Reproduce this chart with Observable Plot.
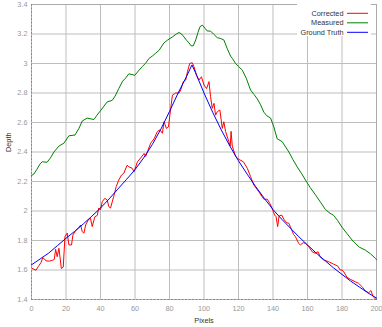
<!DOCTYPE html>
<html><head><meta charset="utf-8">
<script src="https://cdn.jsdelivr.net/npm/d3@7"></script>
<script src="https://cdn.jsdelivr.net/npm/@observablehq/plot@0.6"></script>
<style>
html,body{margin:0;padding:0;background:#fff;}
#chart{width:382px;height:327px;}
</style></head><body><div id="chart"></div>
<script>
const seriesNames = ["Corrected", "Measured", "Ground Truth"];
const seriesColors = ["#ff0000", "#008000", "#0000ff"];
const xTicks = [0, 20, 40, 60, 80, 100, 120, 140, 160, 180, 200];
const yTicks = [1.4, 1.6, 1.8, 2.0, 2.2, 2.4, 2.6, 2.8, 3.0, 3.2, 3.4];
const xLabel = "Pixels";
const yLabel = "Depth";

const correctedX = [0.5,2.6,4,5.5,6.5,7.5,8.4,10.3,12,13.2,14,14.9,15.9,16.6,17.3,18.4,19.4,20.7,21.7,23.2,24,25.5,27.1,28.5,29.4,30.4,31.4,32.9,34.2,35.2,36.7,38.1,39,40,41,42.5,43.9,44.8,45.8,47.7,49.1,50.6,52.2,53.5,55.4,56.4,58.3,59.5,61.4,63.3,65.3,66.2,69.1,71.1,73,74.5,75.9,76.8,78.2,79.4,80.7,81.7,83.6,85.5,86.5,88,89.4,90.4,91.7,93.2,94.2,95.7,97.1,98.5,100,101.5,102.9,103.8,104.8,105.8,106.7,107.7,109.2,110.6,111.5,112.5,114.4,115.2,115.7,116.4,118.3,120.2,122.8,125.1,127,128.9,131.8,134.7,136.7,138.2,139.5,140.9,141.8,142.7,143.5,145,146.5,148,149.2,150.5,152,153,154.9,155.9,157.5,158.8,160.7,162.7,164.6,166.1,167.5,169.4,172.3,175.2,177.5,179,180,181,182.9,184.8,187.7,189.6,191.6,193.5,195.4,196.8,198,199.3,200];
const correctedY = [1.61,1.598,1.625,1.65,1.683,1.675,1.662,1.66,1.665,1.672,1.74,1.69,1.747,1.68,1.61,1.62,1.826,1.85,1.77,1.77,1.837,1.866,1.883,1.905,1.86,1.85,1.905,1.94,1.95,1.894,1.96,1.97,2.02,2.007,2.063,2.086,2.075,2.03,2.02,2.10,2.165,2.21,2.244,2.255,2.31,2.30,2.29,2.266,2.334,2.36,2.39,2.37,2.46,2.49,2.54,2.55,2.527,2.605,2.56,2.57,2.696,2.786,2.80,2.80,2.82,2.877,2.888,2.944,3.0,3.005,2.978,2.92,2.888,2.91,2.854,2.83,2.877,2.775,2.696,2.73,2.65,2.673,2.685,2.56,2.605,2.54,2.47,2.44,2.54,2.44,2.37,2.35,2.334,2.29,2.233,2.176,2.13,2.08,2.08,2.05,2.018,1.973,1.961,1.894,1.965,1.973,1.94,1.92,1.917,1.88,1.84,1.826,1.78,1.77,1.785,1.78,1.758,1.724,1.713,1.724,1.686,1.668,1.656,1.639,1.627,1.60,1.60,1.588,1.55,1.537,1.52,1.51,1.487,1.46,1.446,1.46,1.42,1.405,1.40];

const measuredX = [0,1.3,3,5,6.3,9,11,13,15.9,18.8,21.7,25.2,27.5,29.4,32.3,36.2,38,40,43.9,46.8,48.5,50.6,52.8,54.5,56.4,59.9,62,64.3,66,68.2,70,72,74,76.8,79,81.7,84,85.5,87,88.4,90,91.3,92.5,93.8,95.2,96.5,97.7,99,100.5,101.9,103.8,105.5,107.7,109.5,111.5,113.5,115.4,116.4,118.3,120,122.2,124.5,127,129,130.9,132.8,134.7,136.5,138.6,140.5,142.4,145.3,147,149.2,151.5,154,156.5,158.8,161.5,164.6,167.5,170.4,173,175.2,177.5,180,183,186.8,190,193.5,196.5,199.3,200];
const measuredY = [2.24,2.25,2.28,2.32,2.334,2.33,2.36,2.40,2.44,2.46,2.51,2.515,2.56,2.61,2.63,2.62,2.65,2.68,2.74,2.75,2.78,2.83,2.88,2.90,2.93,2.92,2.95,2.98,3.0,3.035,3.05,3.07,3.09,3.14,3.16,3.18,3.20,3.21,3.2,3.18,3.155,3.14,3.12,3.12,3.16,3.21,3.25,3.26,3.24,3.22,3.22,3.2,3.175,3.17,3.16,3.10,3.05,3.035,3.0,2.98,2.955,2.9,2.82,2.79,2.76,2.72,2.67,2.645,2.63,2.57,2.49,2.47,2.44,2.40,2.35,2.30,2.255,2.21,2.16,2.11,2.06,2.01,1.985,1.97,1.935,1.89,1.845,1.79,1.755,1.735,1.71,1.68,1.67];

const truthX = [0,5,10,15,20,25,30,35,40,45,50,55,60,65,70,75,80,85,90,93,95,100,105,110,115,120,125,130,135,140,145,150,155,160,165,170,175,180,185,190,195,200];
const truthY = [1.635,1.675,1.715,1.765,1.815,1.862,1.912,1.965,2.02,2.082,2.148,2.213,2.28,2.36,2.45,2.555,2.675,2.8,2.915,2.99,2.94,2.80,2.67,2.55,2.44,2.34,2.25,2.165,2.085,2.01,1.945,1.885,1.825,1.77,1.715,1.665,1.615,1.57,1.525,1.485,1.445,1.41];

const rows = [];
correctedX.forEach((x, i) => rows.push({series: "Corrected", x, y: correctedY[i]}));
measuredX.forEach((x, i) => rows.push({series: "Measured", x, y: measuredY[i]}));
truthX.forEach((x, i) => rows.push({series: "Ground Truth", x, y: truthY[i]}));

const gridColor = "#bdbdbd";
const fmt = d => String(Math.round(d * 10) / 10);

const chart = Plot.plot({
  width: 382, height: 327,
  marginLeft: 31, marginRight: 6, marginTop: 4, marginBottom: 28,
  style: {fontFamily: "'Liberation Sans', Arial, sans-serif", fontSize: "7.3px", background: "#fff"},
  x: {domain: [0, 200], label: null},
  y: {domain: [1.4, 3.4], label: null},
  color: {domain: seriesNames, range: seriesColors},
  marks: [
    Plot.gridX(xTicks, {stroke: gridColor, strokeOpacity: 1}),
    Plot.gridY(yTicks, {stroke: gridColor, strokeOpacity: 1}),
    Plot.ruleY([3.4], {stroke: "#aaa"}),
    Plot.ruleX([200], {stroke: "#aaa"}),
    Plot.ruleY([1.4], {stroke: "#888", strokeDasharray: "2,1.5"}),
    Plot.ruleX([0], {stroke: "#888", strokeDasharray: "2,1.5"}),
    Plot.axisX(xTicks, {tickSize: 0, tickPadding: 6, fill: "#999", tickFormat: fmt}),
    Plot.axisY(yTicks, {tickSize: 0, tickPadding: 4, fill: "#999", tickFormat: fmt}),
    Plot.text([xLabel], {frameAnchor: "bottom", dy: 23, fill: "#333"}),
    Plot.text([yLabel], {frameAnchor: "left", dx: -23, rotate: -90, fill: "#333"}),
    Plot.line(rows.filter(d => d.series === "Corrected"), {x: "x", y: "y", stroke: "series", strokeWidth: 1}),
    Plot.line(rows.filter(d => d.series === "Measured"), {x: "x", y: "y", stroke: "series", strokeWidth: 1}),
    Plot.line(rows.filter(d => d.series === "Ground Truth"), {x: "x", y: "y", stroke: "series", strokeWidth: 1})
  ]
});

// legend
const svg = d3.select(chart);
const lg = svg.append("g");
lg.append("rect").attr("x", 297).attr("y", 0).attr("width", 74).attr("height", 36).attr("fill", "#fff");
seriesNames.forEach((name, i) => {
  const yy = 13.3 + i * 9.5;
  lg.append("text").attr("x", 343.5).attr("y", yy).attr("dy", "0.35em")
    .attr("text-anchor", "end").attr("fill", "#333")
    .attr("font-family", "'Liberation Sans', Arial, sans-serif").attr("font-size", "7.3px")
    .text(name);
  lg.append("line").attr("x1", 347).attr("x2", 368).attr("y1", yy).attr("y2", yy)
    .attr("stroke", seriesColors[i]).attr("stroke-width", 1);
});

document.getElementById("chart").appendChild(chart);
</script>
</body></html>
